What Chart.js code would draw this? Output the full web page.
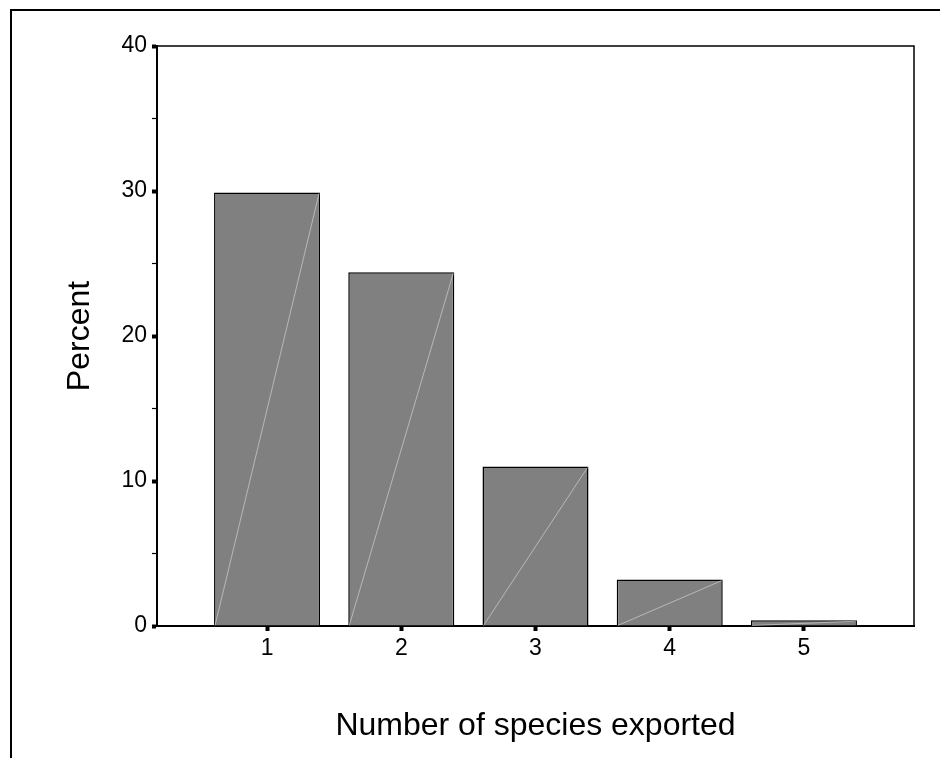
<!DOCTYPE html>
<html>
<head>
<meta charset="utf-8">
<script src="https://cdn.jsdelivr.net/npm/chart.js@4"></script>
<style>
    body { margin: 0; background: #fff; }
    #wrap { position: relative; width: 940px; height: 758px; }
    #frame { position: absolute; left: 10px; top: 9px; right: 0; bottom: 0; border-top: 2px solid #000; border-left: 2px solid #000; }
    #chart { position: absolute; left: 0; top: 0; }
</style>
</head>
<body>
<div id="wrap">
    <div id="frame"></div>
    <canvas id="chart" width="940" height="758"></canvas>
</div>
<script>
var categories = [1, 2, 3, 4, 5];
var percentValues = [29.9, 24.4, 11.0, 3.2, 0.4];
var yTicks = [0, 10, 20, 30, 40];

var fontName = "'Liberation Sans', Arial, sans-serif";

// top and right edges of the plot box, plus the faint diagonal in each bar
var boxPlugin = {
    id: 'boxPlugin',
    afterDatasetsDraw: function (chart) {
        var ctx = chart.ctx;
        var meta = chart.getDatasetMeta(0);
        ctx.save();
        ctx.strokeStyle = 'rgba(215,215,215,0.8)';
        ctx.lineWidth = 0.8;
        meta.data.forEach(function (bar) {
            var p = bar.getProps(['x', 'y', 'base', 'width'], true);
            ctx.beginPath();
            ctx.moveTo(p.x - p.width / 2 + 1, p.base);
            ctx.lineTo(p.x + p.width / 2 - 1, p.y + 1);
            ctx.stroke();
        });
        ctx.restore();
    },
    afterDraw: function (chart) {
        var a = chart.chartArea;
        var ctx = chart.ctx;
        ctx.save();
        ctx.strokeStyle = '#000';
        ctx.lineWidth = 1.5;
        ctx.beginPath();
        ctx.moveTo(a.left, a.top);
        ctx.lineTo(a.right, a.top);
        ctx.lineTo(a.right, a.bottom);
        ctx.stroke();
        ctx.restore();
    }
};

new Chart(document.getElementById('chart'), {
    type: 'bar',
    data: {
        datasets: [{
            data: categories.map(function (c, i) { return { x: c, y: percentValues[i] }; }),
            backgroundColor: '#808080',
            borderColor: '#000',
            borderWidth: 1.5,
            borderSkipped: 'bottom',
            categoryPercentage: 1,
            barPercentage: 0.79
        }]
    },
    options: {
        responsive: false,
        animation: false,
        layout: { padding: { left: 0, right: 26, top: 46, bottom: 0 } },
        plugins: { legend: { display: false }, tooltip: { enabled: false } },
        scales: {
            x: {
                type: 'linear',
                offset: false,
                min: 0.18,
                max: 5.82,
                afterBuildTicks: function (scale) {
                    scale.ticks = categories.map(function (c) { return { value: c }; });
                },
                afterFit: function (scale) { scale.height = 132; },
                border: { display: true, color: '#000', width: 2 },
                grid: { offset: false, drawOnChartArea: false, drawTicks: true, tickLength: 5, tickWidth: 4, color: '#000' },
                ticks: { color: '#000', padding: 4, font: { family: fontName, size: 23 } },
                title: {
                    display: true,
                    text: 'Number of species exported',
                    color: '#000',
                    font: { family: fontName, size: 32 },
                    padding: { top: 0, bottom: 13 }
                }
            },
            y: {
                min: 0,
                max: 40,
                afterBuildTicks: function (scale) {
                    var t = [];
                    for (var v = 0; v <= 40; v += 5) t.push({ value: v });
                    scale.ticks = t;
                },
                afterFit: function (scale) { scale.width = 157; },
                border: { display: true, color: '#000', width: 2 },
                grid: {
                    drawOnChartArea: false,
                    drawTicks: true,
                    tickLength: 5,
                    color: '#000',
                    tickWidth: function (c) { return yTicks.indexOf(c.tick.value) >= 0 ? 4 : 1.2; }
                },
                ticks: {
                    color: '#000',
                    padding: 5,
                    font: { family: fontName, size: 23 },
                    callback: function (v) { return yTicks.indexOf(v) >= 0 ? v : ''; }
                },
                title: {
                    display: true,
                    text: 'Percent',
                    color: '#000',
                    font: { family: fontName, size: 32 },
                    padding: { top: 61, bottom: 0 }
                }
            }
        }
    },
    plugins: [boxPlugin]
});
</script>
</body>
</html>
